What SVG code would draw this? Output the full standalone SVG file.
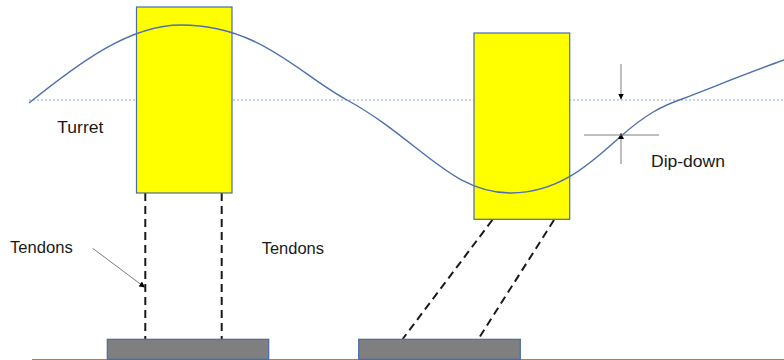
<svg xmlns="http://www.w3.org/2000/svg" width="784" height="360" viewBox="0 0 784 360">
  <style>
    .txt { font-family: "Liberation Sans", Arial, sans-serif; font-size: 16px; fill: #1a1a1a; }
    .box { fill: #ffff00; stroke: #4a6aa8; stroke-width: 1.2; }
    .base { fill: #7f7f7f; stroke: #4a6aa8; stroke-width: 1.2; }
    .tendon { stroke: #1a1a1a; stroke-width: 2; stroke-dasharray: 8 5; fill: none; }
    .thin { stroke: #7f7f7f; stroke-width: 1; fill: none; }
  </style>
  <defs>
    <marker id="ah" viewBox="0 0 10 10" refX="10" refY="5" markerWidth="6" markerHeight="6" orient="auto" markerUnits="userSpaceOnUse">
      <path d="M0,0 L10,5 L0,10 z" fill="#000"/>
    </marker>
  </defs>
  <rect width="784" height="360" fill="#ffffff"/>
  <g id="ground">
    <line x1="32" y1="359.5" x2="784" y2="359.5" stroke="#b07d5b" stroke-width="1.2"/>
  </g>
  <g id="mean-level">
    <line x1="29" y1="100" x2="784" y2="100" stroke="#8faadc" stroke-width="1.2" stroke-dasharray="2 2"/>
  </g>
  <g id="connectors">
    <line class="tendon" x1="145.3" y1="193" x2="145.3" y2="339"/>
    <line class="tendon" x1="221.7" y1="193" x2="221.7" y2="339"/>
    <line class="tendon" x1="492.3" y1="220" x2="402.7" y2="339"/>
    <line class="tendon" x1="554" y1="220" x2="479" y2="338"/>
    <line class="thin" x1="92.7" y1="248.3" x2="145" y2="287.5" marker-end="url(#ah)"/>
  </g>
  <g id="turret-left">
    <rect class="box" x="136.5" y="7" width="95.5" height="186"/>
  </g>
  <g id="turret-right">
    <rect class="box" x="474" y="33" width="95.7" height="186.3"/>
  </g>
  <g id="anchor-left">
    <rect class="base" x="107.3" y="339.3" width="161.4" height="20"/>
  </g>
  <g id="anchor-right">
    <rect class="base" x="358.7" y="339.3" width="161.6" height="20"/>
  </g>
  <g id="wave">
    <path d="M29,103 C80,62 130,25 181,25 C260,25 300,75 347,100 C420,140 450,193 511,193 C560,193 592,162 620,137 C646,114 662,106 682,99 C716,86 750,72 784,60" fill="none" stroke="#4f6fad" stroke-width="1.4"/>
  </g>
  <g id="dip-down-marker">
    <line class="thin" x1="621" y1="64" x2="621" y2="99.5" marker-end="url(#ah)"/>
    <line class="thin" x1="621" y1="164" x2="621" y2="133" marker-end="url(#ah)"/>
    <line class="thin" x1="584" y1="135" x2="659" y2="135"/>
  </g>
  <g id="labels">
    <text class="txt" x="57.3" y="133.3" textLength="46" lengthAdjust="spacingAndGlyphs">Turret</text>
    <text class="txt" x="651" y="166.7" textLength="74" lengthAdjust="spacingAndGlyphs">Dip-down</text>
    <text class="txt" x="10" y="253.3" textLength="62.7" lengthAdjust="spacingAndGlyphs">Tendons</text>
    <text class="txt" x="261.7" y="254.3" textLength="62.3" lengthAdjust="spacingAndGlyphs">Tendons</text>
  </g>
</svg>
